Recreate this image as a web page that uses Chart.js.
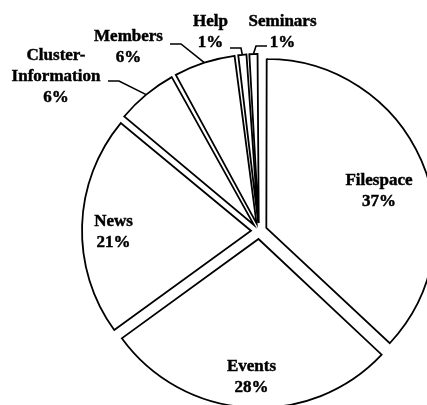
<!DOCTYPE html>
<html><head><meta charset="utf-8">
<script src="https://cdn.jsdelivr.net/npm/chart.js@4/dist/chart.umd.min.js"></script>
<style>
html,body{margin:0;padding:0;background:#fff;overflow:hidden;}
#wrap{position:relative;width:427px;height:405px;overflow:hidden;background:#fff;}
#c{position:absolute;left:0;top:0;}
</style></head><body>
<div id="wrap"><canvas id="c" width="518" height="462"></canvas></div>
<script>
// ---- data ----
const categories = ['Filespace', 'Events', 'News', 'Cluster-Information', 'Members', 'Help', 'Seminars'];
const shares = [37, 28, 21, 6, 6, 1, 1];

// ---- label layout (text annotation placement, relative to pie centre) ----
const labelOffsets = [[120, -40], [-7.5, 146.5], [-145.5, 1], [-203, -154.5], [-130.5, -183.5], [-48.5, -198.5], [23.5, -198.5]];
const leaderEnds = [null, null, null, [52, 4.5], [41.5, -3.5], [19.5, 15.5], [-15.5, 13.5]];

const PIE_RADIUS = 169;
const SLICE_OFFSET = 32; // Chart.js translates by offset/4
const FONT = 'bold 17px "Liberation Serif", "Times New Roman", serif';
const LINE_H = 21;

function labelLines(name, pct) {
  const idx = name.indexOf('-');
  const lines = idx >= 0 ? [name.slice(0, idx + 1), name.slice(idx + 1)] : [name];
  lines.push(pct + '%');
  return lines;
}

// keep every exploded slice on the same radius (undo Chart.js' small-slice radius growth)
const radiusFix = {
  id: 'radiusFix',
  afterDatasetsUpdate(chart) {
    const meta = chart.getDatasetMeta(0);
    const off = SLICE_OFFSET / 4;
    meta.data.forEach(arc => {
      const circ = arc.endAngle - arc.startAngle;
      const fix = 1 - Math.sin(Math.min(Math.PI, circ));
      arc.outerRadius = PIE_RADIUS - off * fix;
    });
  }
};

const labelsPlugin = {
  id: 'sliceLabels',
  afterDatasetsDraw(chart) {
    const ctx = chart.ctx;
    const meta = chart.getDatasetMeta(0);
    const data = chart.data.datasets[0].data;
    const total = data.reduce((a, b) => a + b, 0);
    ctx.save();
    ctx.font = FONT;
    ctx.fillStyle = '#000';
    ctx.strokeStyle = '#000';
    ctx.textAlign = 'center';
    ctx.textBaseline = 'middle';
    meta.data.forEach((arc, i) => {
      const cx = arc.x, cy = arc.y;
      const pct = Math.round(data[i] / total * 100);
      const lines = labelLines(chart.data.labels[i], pct);
      const lx = cx + labelOffsets[i][0];
      const ly = cy + labelOffsets[i][1];
      const y0 = ly - (lines.length - 1) * LINE_H / 2;
      ctx.lineWidth = 0.45;
      lines.forEach((t, k) => {
        ctx.fillText(t, lx, y0 + k * LINE_H);
        ctx.strokeText(t, lx, y0 + k * LINE_H);
      });
      if (leaderEnds[i]) {
        const mid = (arc.startAngle + arc.endAngle) / 2;
        const r = PIE_RADIUS + SLICE_OFFSET / 4;
        const ax = cx + Math.cos(mid) * r;
        const ay = cy + Math.sin(mid) * r;
        const ex = lx + leaderEnds[i][0];
        const ey = ly + leaderEnds[i][1];
        const bx = ex + Math.sign(ax - ex) * 11;
        ctx.lineWidth = 1.6;
        ctx.beginPath();
        ctx.moveTo(ex, ey);
        ctx.lineTo(bx, ey);
        ctx.lineTo(ax, ay);
        ctx.stroke();
      }
    });
    ctx.restore();
  }
};

new Chart(document.getElementById('c'), {
  type: 'pie',
  data: {
    labels: categories,
    datasets: [{
      data: shares,
      backgroundColor: '#ffffff',
      borderColor: '#000000',
      borderWidth: 1.8,
      borderJoinStyle: 'miter',
      offset: SLICE_OFFSET,
      hoverOffset: 0
    }]
  },
  options: {
    responsive: false,
    animation: false,
    devicePixelRatio: 1,
    radius: PIE_RADIUS,
    rotation: 0,
    layout: { padding: 0 },
    plugins: {
      legend: { display: false },
      tooltip: { enabled: false }
    },
    events: []
  },
  plugins: [radiusFix, labelsPlugin]
});
</script>
</body></html>
